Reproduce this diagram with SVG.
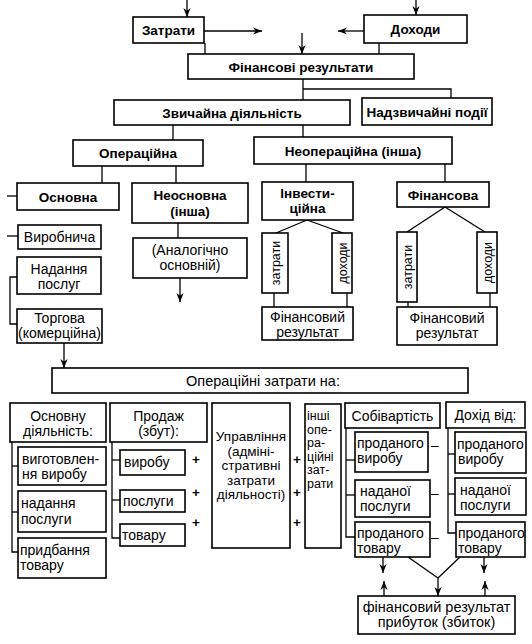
<svg xmlns="http://www.w3.org/2000/svg" width="532" height="644" viewBox="0 0 532 644">
<defs>
<marker id="ah" viewBox="0 0 10 10" refX="10" refY="5" markerWidth="9" markerHeight="9" markerUnits="userSpaceOnUse" orient="auto">
<path d="M0,1 L10,5 L0,9 L3,5 Z" fill="#000"/>
</marker>
</defs>
<style>
rect{fill:#fff;stroke:#000;stroke-width:1.6}
.c line,.c polyline{stroke:#000;stroke-width:1.3;fill:none}
.a{marker-end:url(#ah)}
text{font-family:"Liberation Sans",Arial,sans-serif;font-size:14px;fill:#000}
.b{font-weight:bold;font-size:13.5px}
.s{font-size:12.5px}
.u{font-size:13.5px}
.m{text-anchor:middle}
</style>
<rect x="0" y="0" width="532" height="644" style="fill:#fff;stroke:none"/>
<g class="c" id="connectors">
<line class="a" x1="187" y1="0" x2="187" y2="17"/>
<line class="a" x1="416" y1="0" x2="416" y2="15"/>
<line class="a" x1="204" y1="31" x2="262" y2="31"/>
<line class="a" x1="364" y1="31" x2="338" y2="31"/>
<line class="a" x1="302" y1="33" x2="302" y2="54"/>
<line x1="205" y1="43" x2="205" y2="54"/>
<line x1="379" y1="43" x2="379" y2="54"/>
<line x1="303" y1="79" x2="303" y2="100"/>
<polyline points="303,89 451,89 451,98"/>
<line x1="173" y1="125" x2="173" y2="140"/>
<line x1="303" y1="125" x2="303" y2="137"/>
<line x1="102" y1="166" x2="102" y2="183"/>
<line x1="176" y1="166" x2="176" y2="183"/>
<line x1="306" y1="164" x2="306" y2="182"/>
<line x1="445" y1="164" x2="445" y2="182"/>
<line x1="7" y1="196" x2="17" y2="196"/>
<line x1="7" y1="236" x2="18" y2="236"/>
<polyline points="17,277 10,277 10,324 17,324"/>
<line x1="178" y1="223" x2="178" y2="238"/>
<line class="a" x1="180" y1="278" x2="180" y2="302"/>
<line class="a" x1="64" y1="343" x2="64" y2="368"/>
<line x1="307" y1="220" x2="276" y2="233"/>
<line x1="307" y1="220" x2="343" y2="233"/>
<line x1="274" y1="293" x2="274" y2="307"/>
<line x1="347" y1="293" x2="347" y2="307"/>
<line x1="445" y1="207" x2="407" y2="232"/>
<line x1="445" y1="207" x2="485" y2="232"/>
<line x1="408" y1="302" x2="408" y2="307"/>
<line x1="490" y1="293" x2="490" y2="307"/>
<polyline points="12,442 12,552 18,552"/>
<line x1="12" y1="466" x2="18" y2="466"/>
<line x1="12" y1="512" x2="18" y2="512"/>
<polyline points="112,442 112,538 120,538"/>
<line x1="112" y1="460" x2="120" y2="460"/>
<line x1="112" y1="500" x2="120" y2="500"/>
<polyline points="346,428 346,537 355,537"/>
<line x1="346" y1="460" x2="355" y2="460"/>
<line x1="346" y1="495" x2="355" y2="495"/>
<polyline points="448,428 448,533 456,533"/>
<line x1="448" y1="454" x2="455" y2="454"/>
<line x1="448" y1="494" x2="455" y2="494"/>
<line class="a" x1="383" y1="557" x2="383" y2="573"/>
<line class="a" x1="384" y1="596" x2="384" y2="581"/>
<line x1="408" y1="557" x2="438" y2="578"/>
<line x1="460" y1="557" x2="438" y2="578"/>
<line class="a" x1="438" y1="578" x2="438" y2="596"/>
<line class="a" x1="484" y1="557" x2="484" y2="573"/>
<line class="a" x1="485" y1="596" x2="485" y2="581"/>
</g>
<g id="zatraty"><rect x="133" y="17" width="71" height="26"/><text class="b m" x="168.5" y="35">Затрати</text></g>
<g id="dokhody"><rect x="364" y="15" width="103" height="28"/><text class="b m" x="415.5" y="34">Доходи</text></g>
<g id="finrez"><rect x="188" y="54" width="226" height="25"/><text class="b m" x="301" y="71.5">Фінансові результати</text></g>
<g id="zvychaina"><rect x="114" y="100" width="236" height="25"/><text class="b m" x="232" y="117.5">Звичайна діяльність</text></g>
<g id="nadzvychaini"><rect x="362" y="98" width="130" height="27"/><text class="b m" x="427" y="116.5">Надзвичайні події</text></g>
<g id="operatsiina"><rect x="73" y="140" width="130" height="26"/><text class="b m" x="138" y="158">Операційна</text></g>
<g id="neoperatsiina"><rect x="254" y="137" width="198" height="27"/><text class="b m" x="353" y="155.5">Неопераційна (інша)</text></g>
<g id="osnovna"><rect x="17" y="183" width="102" height="27"/><text class="b m" x="68" y="201.5">Основна</text></g>
<g id="neosnovna"><rect x="132" y="183" width="116" height="40"/><text class="b m" x="190" y="200">Неосновна</text><text class="b m" x="190" y="216">(інша)</text></g>
<g id="invest"><rect x="262" y="182" width="91" height="38"/><text class="b m" x="307.5" y="198">Інвести-</text><text class="b m" x="307.5" y="213">ційна</text></g>
<g id="finansova"><rect x="397" y="182" width="92" height="25"/><text class="b m" x="443" y="199.5">Фінансова</text></g>
<g id="vyrobnycha"><rect x="18" y="225" width="83" height="24"/><text class="m" x="59.5" y="242">Виробнича</text></g>
<g id="nadannia"><rect x="17" y="257" width="84" height="37"/><text class="m" x="59" y="274">Надання</text><text class="m" x="59" y="289">послуг</text></g>
<g id="torgova"><rect x="17" y="309" width="85" height="34"/><text class="m" x="59.5" y="323">Торгова</text><text class="m" x="59.5" y="338">(комерційна)</text></g>
<g id="analogichno"><rect x="133" y="238" width="114" height="40"/><text class="m" x="190" y="255">(Аналогічно</text><text class="m" x="190" y="270">основній)</text></g>
<g id="inv-zatraty"><rect x="262" y="233" width="26" height="60"/><text class="m s" transform="translate(279.5,263) rotate(-90)">затрати</text></g>
<g id="inv-dokhody"><rect x="332" y="233" width="20" height="60"/><text class="m s" transform="translate(346.5,263) rotate(-90)">доходи</text></g>
<g id="inv-finrez"><rect x="262" y="307" width="91" height="33"/><text class="m" x="307.5" y="322">Фінансовий</text><text class="m" x="307.5" y="337">результат</text></g>
<g id="fin-zatraty"><rect x="397" y="232" width="20" height="70"/><text class="m s" transform="translate(411.5,267) rotate(-90)">затрати</text></g>
<g id="fin-dokhody"><rect x="477" y="232" width="20" height="61"/><text class="m s" transform="translate(491.5,262.5) rotate(-90)">доходи</text></g>
<g id="fin-finrez"><rect x="397" y="307" width="100" height="38"/><text class="m" x="447" y="323">Фінансовий</text><text class="m" x="447" y="338">результат</text></g>
<g id="opzatraty"><rect x="52" y="368" width="416" height="25"/><text class="m" x="263" y="385.5" style="font-size:14.5px">Операційні затрати на:</text></g>
<g id="osnovnu"><rect x="10" y="403" width="96" height="39"/><text class="m" x="58" y="420.5">Основну</text><text class="m" x="58" y="436">діяльність:</text></g>
<g id="vygotovlennia"><rect x="18" y="447" width="88" height="38"/><text x="22" y="464">виготовлен-</text><text x="22" y="479">ня виробу</text></g>
<g id="nadannia-posl"><rect x="18" y="491" width="88" height="41"/><text x="21" y="508">надання</text><text x="21" y="524">послуги</text></g>
<g id="prydbannia"><rect x="18" y="538" width="88" height="40"/><text x="20" y="555">придбання</text><text x="20" y="570">товару</text></g>
<g id="prodazh"><rect x="110" y="403" width="97" height="39"/><text class="m" x="158.5" y="420.5">Продаж</text><text class="m" x="158.5" y="436">(збут):</text></g>
<g id="p-vyrobu"><rect x="120" y="450" width="65" height="25"/><text x="124" y="467">виробу</text></g>
<g id="p-poslugy"><rect x="120" y="490" width="65" height="22"/><text x="123" y="506">послуги</text></g>
<g id="p-tovaru"><rect x="120" y="524" width="65" height="22"/><text x="122" y="540">товару</text></g>
<g id="plus1"><text class="m b" x="196" y="464">+</text><text class="m b" x="196" y="497">+</text><text class="m b" x="196" y="527">+</text></g>
<g id="upravlinnia"><rect x="212" y="403" width="78" height="145"/><text class="m u" x="251" y="441">Управління</text><text class="m u" x="251" y="455.5">(адміні-</text><text class="m u" x="251" y="470">стративні</text><text class="m u" x="251" y="484.5">затрати</text><text class="m u" x="251" y="499">діяльності)</text></g>
<g id="plus2"><text class="m b" x="297" y="464">+</text><text class="m b" x="297" y="497">+</text><text class="m b" x="297" y="527">+</text></g>
<g id="inshi"><rect x="305" y="404" width="36" height="144"/><text class="s" x="307" y="420">інші</text><text class="s" x="307" y="433.5">опе-</text><text class="s" x="307" y="447">ра-</text><text class="s" x="307" y="460.5">ційні</text><text class="s" x="307" y="474">зат-</text><text class="s" x="307" y="487.5">рати</text></g>
<g id="sobivartist"><rect x="345" y="403" width="95" height="25"/><text class="m" x="392.5" y="420.5">Собівартість</text></g>
<g id="s-vyrobu"><rect x="355" y="432" width="73" height="40"/><text x="357" y="448">проданого</text><text x="357" y="463">виробу</text></g>
<g id="s-poslugy"><rect x="355" y="480" width="75" height="37"/><text x="360" y="496">наданої</text><text x="360" y="511">послуги</text></g>
<g id="s-tovaru"><rect x="355" y="522" width="75" height="35"/><text x="357" y="537.5">проданого</text><text x="357" y="552.5">товару</text></g>
<g id="minus"><text class="m" x="435" y="450">–</text><text class="m" x="435" y="498">–</text><text class="m" x="435" y="542">–</text></g>
<g id="dokhid"><rect x="446" y="402" width="79" height="26"/><text class="m" x="485.5" y="420">Дохід від:</text></g>
<g id="d-vyrobu"><rect x="455" y="432" width="71" height="41"/><text x="457" y="449">проданого</text><text x="458" y="464">виробу</text></g>
<g id="d-poslugy"><rect x="455" y="478" width="71" height="37"/><text x="460" y="494.5">наданої</text><text x="460" y="509.5">послуги</text></g>
<g id="d-tovaru"><rect x="456" y="522" width="69" height="35"/><text x="458" y="537.5">проданого</text><text x="458" y="552.5">товару</text></g>
<g id="finrezultat"><rect x="358" y="596" width="157" height="38"/><text class="m" x="436.5" y="612" style="font-size:14.5px">фінансовий результат</text><text class="m" x="436.5" y="627" style="font-size:14.5px">прибуток (збиток)</text></g>
</svg>
